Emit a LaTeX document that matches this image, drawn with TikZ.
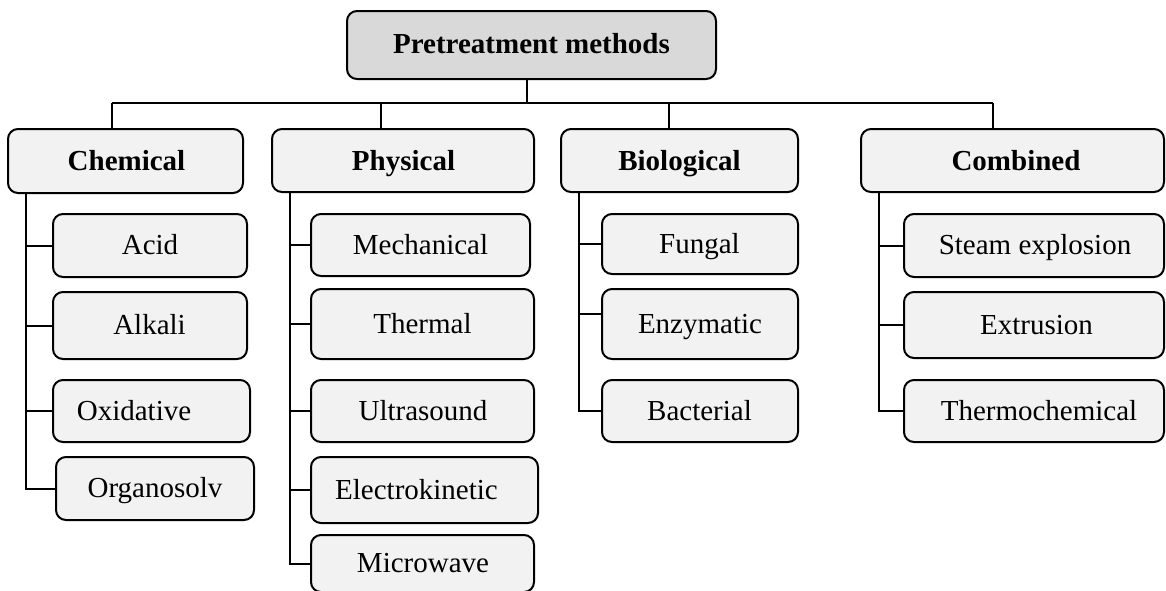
\documentclass[tikz,border=0pt]{standalone}
\usepackage{fontspec}
\setmainfont{Liberation Serif}
\begin{document}
\begin{tikzpicture}[x=1pt,y=-1pt,
  basebox/.style={draw=black, line width=2pt, rounded corners=10pt, inner sep=0pt},
  leaf/.style={basebox, fill=gray!10},
  group/.style={basebox, fill=gray!10},
  top/.style={basebox, fill=gray!30},
  label/.style={anchor=base, inner sep=0pt, font=\fontsize{29}{34}\selectfont},
  heading/.style={label, font=\fontsize{29}{34}\selectfont\bfseries},
  link/.style={draw=black, line width=2pt}]
\useasboundingbox (0,0) rectangle (1166,590);
% method box with its label: name, x1, y1, x2, y2, label x, label
\newcommand\tbox[7]{%
  \node[leaf, minimum width={(#4-#2)*1pt}, minimum height={(#5-#3)*1pt}]
    (#1) at ({(#2+#4)/2},{(#3+#5)/2}) {};
  \node[label] (#1-t) at (#6,{(#3+#5)/2+9}) {#7};}
% root
\node[top, minimum width=369pt, minimum height=68pt] (root) at (531.5,45) {};
\node[heading] (root-t) at (531.5,53) {Pretreatment methods};
% groups
\node[group, minimum width=235pt, minimum height=64pt] (chem) at (125.5,161) {};
\node[heading] (chem-t) at (126.5,170) {Chemical};
\node[group, minimum width=262pt, minimum height=63pt] (phys) at (403,160.5) {};
\node[heading] (phys-t) at (403.5,170) {Physical};
\node[group, minimum width=237pt, minimum height=63pt] (bio) at (679.5,160.5) {};
\node[heading] (bio-t) at (679.5,170) {Biological};
\node[group, minimum width=303pt, minimum height=63pt] (comb) at (1012.5,160.5) {};
\node[heading] (comb-t) at (1016,170) {Combined};
% chemical methods
\tbox{acid}{53}{214}{247}{277}{150}{Acid}
\tbox{alkali}{53}{292}{247}{359}{149.5}{Alkali}
\tbox{oxid}{53}{380}{250}{442}{134}{Oxidative}
\tbox{organo}{56}{457}{254}{520}{155}{Organosolv}
% physical methods
\tbox{mech}{311}{214}{530}{276}{420.5}{Mechanical}
\tbox{therm}{311}{289}{534}{359}{422.5}{Thermal}
\tbox{ultra}{311}{380}{534}{442}{423}{Ultrasound}
\tbox{elec}{311}{457}{538}{523}{416.5}{Electrokinetic}
\tbox{micro}{311}{535}{534}{592}{423}{Microwave}
% biological methods
\tbox{fung}{602}{214}{798}{274}{699.5}{Fungal}
\tbox{enz}{602}{289}{798}{359}{700}{Enzymatic}
\tbox{bact}{602}{380}{798}{442}{699.5}{Bacterial}
% combined methods
\tbox{steam}{904}{214}{1164}{277}{1035}{Steam explosion}
\tbox{extr}{904}{292}{1164}{358}{1036.5}{Extrusion}
\tbox{thermo}{904}{380}{1164}{442}{1039}{Thermochemical}
% bus from the root to the four groups
\coordinate (sRoot) at (527,103);
\coordinate (sChem) at (112,103);
\coordinate (sPhys) at (381,103);
\coordinate (sBio) at (669,103);
\coordinate (sComb) at (993,103);
\draw[link] (sRoot) -- (sRoot |- root.south);
\draw[link] (sChem) -- (sComb);
\foreach \s/\g in {sChem/chem, sPhys/phys, sBio/bio, sComb/comb}
  \draw[link] (\s) -- (\s |- \g.north);
% trunks from each group to its methods
\foreach \g in {chem, phys, bio, comb}
  \coordinate (\g T) at ([xshift=19pt]\g.south west);
\draw[link] (chemT) |- (organo.west);
\foreach \c in {acid, alkali, oxid}
  \draw[link] (\c.west) -- (\c.west -| chemT);
\draw[link] (physT) |- (micro.west);
\foreach \c in {mech, therm, ultra, elec}
  \draw[link] (\c.west) -- (\c.west -| physT);
\draw[link] (bioT) |- (bact.west);
\draw[link] (fung.west) -- (fung.west -| bioT);
\draw[link] ([yshift=10pt]enz.west) -- ([yshift=10pt]enz.west -| bioT);
\draw[link] (combT) |- (thermo.west);
\foreach \c in {steam, extr}
  \draw[link] (\c.west) -- (\c.west -| combT);
\end{tikzpicture}
\end{document}
